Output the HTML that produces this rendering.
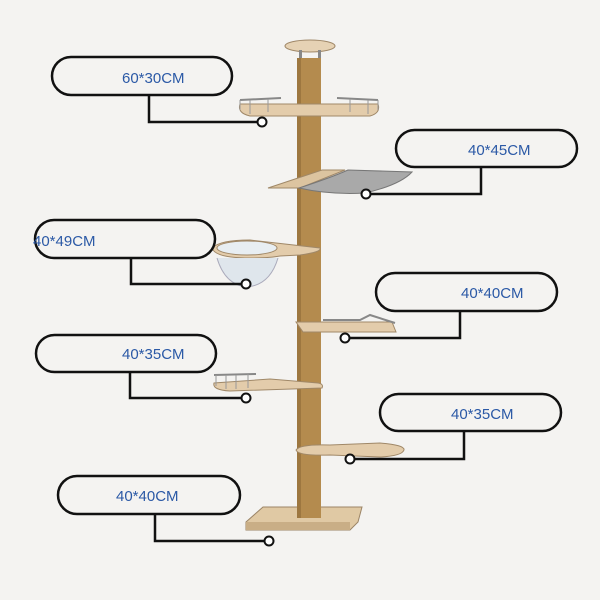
<!DOCTYPE html>
<html><head><meta charset="utf-8"><style>
html,body{margin:0;padding:0;background:#f4f3f1;}
svg{display:block}
text{font-family:"Liberation Sans",sans-serif;font-size:15px;fill:#2b59a6;}
</style></head><body>
<svg width="600" height="600" viewBox="0 0 600 600" xmlns="http://www.w3.org/2000/svg">
<rect width="600" height="600" fill="#f4f3f1"/>
<!-- base -->
<polygon points="263,507 362,507 358,522 350,530 246,530 246,522" fill="#e0c9a4" stroke="#9b8466" stroke-width="1"/>
<polygon points="246,522 350,522 350,530 246,530" fill="#c9ae86"/>
<!-- top plate -->
<ellipse cx="310" cy="46" rx="25" ry="6" fill="#e6d2b4" stroke="#a08868"/>
<rect x="299" y="50" width="3" height="9" fill="#888"/><rect x="318" y="50" width="3" height="9" fill="#888"/>
<!-- pillar -->
<rect x="297" y="58" width="24" height="460" fill="#b48b4e"/>
<rect x="297" y="58" width="4" height="460" fill="#9d7740"/>
<!-- platform 1 -->
<path d="M240,104 Q237,113 250,116 L370,116 Q381,113 378,104 Z" fill="#e3ccab" stroke="#a08868"/>
<path d="M240,100 L281,98 M337,98 L378,100" stroke="#888" stroke-width="2" fill="none"/>
<path d="M240,100 L240,110 M250,100 L250,114 M268,99 L268,112 M350,99 L350,112 M368,100 L368,114 M378,100 L378,110" stroke="#999" stroke-width="1"/>
<!-- platform 2 hammock -->
<polygon points="268,188 322,170 345,170 300,188" fill="#dcc4a0" stroke="#a08868"/>
<path d="M299,188 Q330,195 365,193 Q400,185 412,172 L348,170 Q330,178 299,188Z" fill="#a9a9a9" stroke="#777"/>
<!-- platform 3 bowl -->
<path d="M212,248 Q220,240 250,240 L320,248 Q322,252 300,255 L280,256 Q270,258 250,258 Q215,258 212,248Z" fill="#e3ccab" stroke="#a08868"/>
<ellipse cx="247" cy="248" rx="30" ry="7" fill="#e8eef2" stroke="#a08868"/>
<path d="M217,258 Q225,285 247,287 Q270,285 278,258" fill="#dfe6ec" stroke="#aab" />
<!-- platform 4 -->
<polygon points="296,322 392,322 396,332 303,332" fill="#e3ccab" stroke="#a08868"/>
<path d="M323,320 L360,320 L370,315 L395,323" stroke="#888" stroke-width="2" fill="none"/>
<!-- platform 5 -->
<path d="M214,383 Q212,390 230,391 L322,388 Q324,384 318,383 L270,379 Z" fill="#e3ccab" stroke="#a08868"/>
<path d="M214,375 L256,374" stroke="#888" stroke-width="2"/>
<path d="M216,375 L216,386 M226,375 L226,389 M236,375 L236,389 M248,374 L248,388" stroke="#999"/>
<!-- platform 6 -->
<path d="M296,450 Q300,444 330,445 L380,443 Q405,445 404,450 Q402,456 380,457 L330,455 Q298,456 296,450Z" fill="#e3ccab" stroke="#a08868"/>
<g fill="none" stroke="#111" stroke-width="2.5">
<rect x="52" y="57" width="180" height="38" rx="19"/>
<polyline points="149,95 149,122 257,122"/>
<rect x="396" y="130" width="181" height="37" rx="18.5"/>
<polyline points="481,167 481,194 371,194"/>
<rect x="35" y="220" width="180" height="38" rx="19"/>
<polyline points="131,258 131,284 241,284"/>
<rect x="376" y="273" width="181" height="38" rx="19"/>
<polyline points="460,311 460,338 350,338"/>
<rect x="36" y="335" width="180" height="37" rx="18.5"/>
<polyline points="130,372 130,398 241,398"/>
<rect x="380" y="394" width="181" height="37" rx="18.5"/>
<polyline points="464,431 464,459 355,459"/>
<rect x="58" y="476" width="182" height="38" rx="19"/>
<polyline points="155,514 155,541 264,541"/>
</g>
<g fill="#fff" stroke="#111" stroke-width="2">
<circle cx="262" cy="122" r="4.5"/><circle cx="366" cy="194" r="4.5"/><circle cx="246" cy="284" r="4.5"/>
<circle cx="345" cy="338" r="4.5"/><circle cx="246" cy="398" r="4.5"/><circle cx="350" cy="459" r="4.5"/><circle cx="269" cy="541" r="4.5"/>
</g>
<text x="122" y="83">60*30CM</text>
<text x="468" y="155">40*45CM</text>
<text x="33" y="246">40*49CM</text>
<text x="461" y="298">40*40CM</text>
<text x="122" y="359">40*35CM</text>
<text x="451" y="419">40*35CM</text>
<text x="116" y="501">40*40CM</text>
</svg>
</body></html>
